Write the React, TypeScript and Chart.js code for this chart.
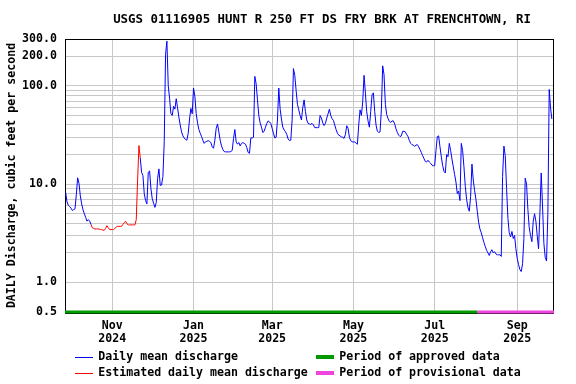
import React, { useEffect, useRef } from 'react';
import { Chart, registerables } from 'chart.js';

Chart.register(...registerables);

const TITLE = 'USGS 01116905 HUNT R 250 FT DS FRY BRK AT FRENCHTOWN, RI';
const Y_TITLE = 'DAILY Discharge, cubic feet per second';
const START_DATE = '2024-09-27';
const AXIS_END_DATE = '2025-09-29';

// daily mean discharge, cfs, one value per day starting at START_DATE
const discharge = [
  8.2, 6.6, 6.1, 5.9, 5.7, 5.4, 5.5, 5.6, 7.8, 11.6,
  10.2, 7.6, 6.3, 5.5, 5.0, 4.6, 4.2, 4.35, 4.2, 3.9,
  3.6, 3.55, 3.5, 3.5, 3.5, 3.5, 3.45, 3.45, 3.4, 3.4,
  3.55, 3.78, 3.6, 3.45, 3.45, 3.45, 3.45, 3.55, 3.65, 3.72,
  3.72, 3.72, 3.72, 3.9, 4.05, 4.2, 3.95, 3.85, 3.85, 3.85,
  3.85, 3.85, 3.85, 4.35, 11, 24.7, 18.5, 13.2, 12.2, 8.0,
  6.8, 6.3, 13.2, 13.6, 9.0, 7.1, 6.4, 5.8, 6.5, 11.4,
  14.3, 9.7, 9.8, 12.0, 27, 210, 285, 101, 75, 52,
  50, 62, 58, 74, 60, 48, 40, 34, 31, 29.5,
  28.5, 28, 33, 46, 59, 52, 95, 78, 52, 42,
  36, 33, 30.5, 28, 26, 27, 27.3, 27.7, 27.3, 26.5,
  24, 23.2, 28, 37, 41, 34, 28, 24.5, 22.5, 21.5,
  21.3, 21.3, 21.3, 21.3, 21.5, 22, 29, 36, 27, 25.5,
  26.5, 24.5, 26, 26.5, 26, 25.5, 23.5, 21, 20.6, 29.5,
  29.5, 30, 125, 105, 72, 50, 42, 38, 33.5, 34.5,
  38, 41.5, 44, 43, 41.5, 37, 33, 29.5, 30, 45,
  95, 58, 46, 38, 35.6, 34.2, 32, 28.8, 27.8, 28,
  45, 150, 128, 90, 65, 57, 50, 45, 60, 72,
  55, 45, 41.5, 41, 40.6, 41.5, 40, 37.6, 37.6, 37.6,
  37.6, 50, 47, 42, 39.5, 41.5, 47, 52, 58, 50,
  46.5, 44.5, 40, 36, 33, 31.5, 31, 30.2, 30, 29.2,
  32, 39.3, 37, 30, 27.7, 27, 26.8, 27, 26, 25.5,
  40, 57, 50, 69, 128, 85, 54.5, 44, 38, 55,
  81, 85, 55, 40, 34.5, 33.6, 34, 57, 160, 130,
  65, 51, 46.5, 43.5, 42.4, 44, 44, 41, 36.5, 33.5,
  31.5, 30.5, 31, 34.5, 34.5, 34, 32, 30.5, 27.8, 26,
  25.2, 25, 24.2, 25, 25.2, 24, 22.5, 21, 19.5, 18.2,
  17, 16.8, 17.5, 16.8, 16.3, 15.6, 15.4, 15.4, 22, 30.5,
  31, 24, 19, 15.5, 13.5, 13, 20, 19, 26, 22,
  18, 15, 12.5, 10.5, 8, 8.5, 6.8, 26, 22, 15,
  9.5, 7, 5.8, 5.3, 7.5, 16, 11, 8.6, 7, 5.3,
  4.1, 3.5, 3.2, 2.85, 2.55, 2.32, 2.12, 2.0, 1.88, 2.05,
  2.15, 2.0, 2.05, 1.95, 1.91, 1.91, 1.91, 1.84, 12, 24.4,
  19.5, 9, 4.5, 3.2, 2.9, 3.3, 2.8, 3.0, 2.2, 1.75,
  1.52, 1.35, 1.29, 1.55, 2.8, 11.5, 10, 5.5, 3.6, 3.0,
  2.6, 4.2, 5.0, 4.2, 3.0, 2.2, 5, 13, 6, 2.5,
  1.8, 1.65, 5, 92, 60, 46,
];

const ESTIMATED_FROM = '2024-10-16';
const ESTIMATED_TO = '2024-11-22';
const PROVISIONAL_FROM = '2025-08-02';

const monthTickDates = ['2024-11-01', '2025-01-01', '2025-03-01', '2025-05-01', '2025-07-01', '2025-09-01'];
const monthTickLabels = [
  ['Nov', '2024'], ['Jan', '2025'], ['Mar', '2025'],
  ['May', '2025'], ['Jul', '2025'], ['Sep', '2025'],
];

const yTickValues = [0.5, 1, 2, 3, 4, 5, 6, 7, 8, 9, 10, 20, 30, 40, 50, 60, 70, 80, 90, 100, 200, 300];
const yLabelled: Record<string, string> = {
  '0.5': '0.5', '1': '1.0', '10': '10.0', '100': '100.0', '200': '200.0', '300': '300.0',
};

const LABELS = {
  daily: 'Daily mean discharge',
  estimated: 'Estimated daily mean discharge',
  approved: 'Period of approved data',
  provisional: 'Period of provisional data',
};

const COLORS = {
  daily: '#0000ff',
  estimated: '#ff0000',
  approved: '#009a00',
  provisional: '#f044e0',
};

const FONT = "'DejaVu Sans Mono', monospace";

function dayIndex(s: string): number {
  const [y, m, d] = s.split('-').map(Number);
  const [y0, m0, d0] = START_DATE.split('-').map(Number);
  return Math.round((Date.UTC(y, m - 1, d) - Date.UTC(y0, m0 - 1, d0)) / 86400000);
}

export default function App() {
  const ref = useRef<HTMLCanvasElement | null>(null);

  useEffect(() => {
    document.body.style.margin = '0';
    const canvas = ref.current;
    if (!canvas) return;

    const estFrom = dayIndex(ESTIMATED_FROM);
    const estTo = dayIndex(ESTIMATED_TO);
    const provFrom = dayIndex(PROVISIONAL_FROM);
    const xMin = -0.5;
    const xMax = dayIndex(AXIS_END_DATE) - 0.4;

    const dailyData = discharge.map((v, i) => ({ x: i, y: i > estFrom && i < estTo ? null : v }));
    const estData = discharge
      .map((v, i) => ({ x: i, y: v }))
      .filter((p) => p.x >= estFrom && p.x <= estTo);

    const decorPlugin = {
      id: 'usgsDecor',
      beforeDatasetsDraw(chart: any) {
        const { ctx, chartArea } = chart;
        ctx.save();
        ctx.strokeStyle = '#000';
        ctx.lineWidth = 1;
        ctx.strokeRect(
          Math.round(chartArea.left) + 0.5,
          Math.round(chartArea.top) + 0.5,
          Math.round(chartArea.right - chartArea.left) - 1,
          Math.round(chartArea.bottom - chartArea.top) + 1
        );
        ctx.restore();
      },
      afterDraw(chart: any) {
        const { ctx, chartArea } = chart;
        ctx.save();
        ctx.fillStyle = '#000';
        ctx.textBaseline = 'middle';
        // title
        ctx.font = `bold 12.4px ${FONT}`;
        ctx.textAlign = 'center';
        ctx.fillText(TITLE, (chartArea.left + chartArea.right) / 2 + 12.5, 19.5);
        // legend
        ctx.font = `bold 11.6px ${FONT}`;
        ctx.textAlign = 'left';
        const rows = [356.7, 372.7];
        const lineItems = [
          { label: LABELS.daily, color: COLORS.daily },
          { label: LABELS.estimated, color: COLORS.estimated },
        ];
        const barItems = [
          { label: LABELS.approved, color: COLORS.approved },
          { label: LABELS.provisional, color: COLORS.provisional },
        ];
        lineItems.forEach((it, r) => {
          ctx.fillStyle = it.color;
          ctx.fillRect(75, Math.round(rows[r]), 18, 1);
          ctx.fillStyle = '#000';
          ctx.fillText(it.label, 98.3, rows[r]);
        });
        barItems.forEach((it, r) => {
          ctx.fillStyle = it.color;
          ctx.fillRect(316, Math.round(rows[r]) - 2, 18, 4);
          ctx.fillStyle = '#000';
          ctx.fillText(it.label, 339.3, rows[r]);
        });
        ctx.restore();
      },
    };

    const chart = new Chart(canvas, {
      type: 'line',
      data: {
        datasets: [
          {
            label: LABELS.daily,
            data: dailyData,
            borderColor: COLORS.daily,
            borderWidth: 1,
            pointRadius: 0,
            spanGaps: false,
            tension: 0,
          },
          {
            label: LABELS.estimated,
            data: estData,
            borderColor: COLORS.estimated,
            borderWidth: 1,
            pointRadius: 0,
            tension: 0,
          },
          {
            label: LABELS.approved,
            data: [{ x: xMin, y: 0.5 }, { x: provFrom, y: 0.5 }],
            borderColor: COLORS.approved,
            borderWidth: 3,
            pointRadius: 0,
            clip: 10,
          },
          {
            label: LABELS.provisional,
            data: [{ x: provFrom, y: 0.5 }, { x: xMax, y: 0.5 }],
            borderColor: COLORS.provisional,
            borderWidth: 3,
            pointRadius: 0,
            clip: 10,
          },
        ],
      },
      options: {
        animation: false,
        responsive: false,
        events: [],
        layout: { padding: { left: 0, right: 22, top: 39, bottom: 42 } },
        plugins: {
          legend: { display: false },
          tooltip: { enabled: false },
          title: { display: false },
        },
        scales: {
          x: {
            type: 'linear',
            min: xMin,
            max: xMax,
            border: { display: false },
            grid: { color: '#c8c8c8', lineWidth: 1, drawTicks: false },
            afterBuildTicks: (scale: any) => {
              scale.ticks = monthTickDates.map((d) => ({ value: dayIndex(d) }));
            },
            afterFit: (scale: any) => {
              scale.height = 30;
            },
            ticks: {
              autoSkip: false,
              maxRotation: 0,
              padding: 7.5,
              color: '#000',
              font: { family: FONT, size: 11.6, weight: 'bold', lineHeight: 1.12 },
              callback: (_v: any, i: number) => monthTickLabels[i],
            },
          },
          y: {
            type: 'logarithmic',
            min: 0.5,
            max: 300,
            border: { display: false },
            grid: { color: '#c8c8c8', lineWidth: 1, drawTicks: false },
            afterBuildTicks: (scale: any) => {
              scale.ticks = yTickValues.map((v) => ({ value: v }));
            },
            afterFit: (scale: any) => {
              scale.width = 65;
            },
            title: {
              display: true,
              text: Y_TITLE,
              color: '#000',
              font: { family: FONT, size: 11.6, weight: 'bold', lineHeight: 1.2 },
              padding: { top: 5, bottom: 0 },
            },
            ticks: {
              autoSkip: false,
              padding: 8,
              color: '#000',
              font: { family: FONT, size: 11.6, weight: 'bold' },
              callback: (v: any) => yLabelled[String(v)] ?? '',
            },
          },
        },
      },
      plugins: [decorPlugin],
    } as any);

    return () => chart.destroy();
  }, []);

  return (
    <div style={{ width: 576, height: 384, background: '#fff' }}>
      <canvas ref={ref} width={576} height={384} />
    </div>
  );
}
